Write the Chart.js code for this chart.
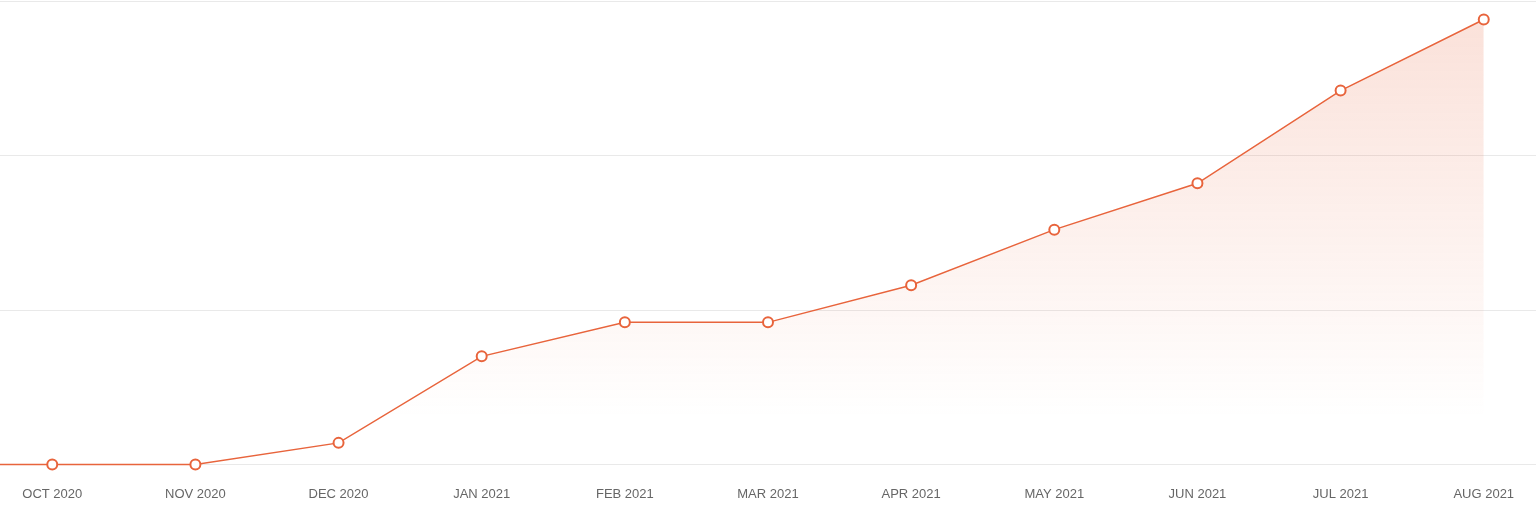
<!DOCTYPE html>
<html>
<head>
<meta charset="utf-8">
<script src="https://cdn.jsdelivr.net/npm/chart.js@4/dist/chart.umd.min.js"></script>
<style>
  html, body { margin: 0; padding: 0; background: #fff; }
  #wrap { width: 1536px; height: 518px; }
</style>
</head>
<body>
<div id="wrap"><canvas id="myChart"></canvas></div>
<script>
// first month only feeds the line coming in from the left edge
var months = ['SEP 2020', 'OCT 2020', 'NOV 2020', 'DEC 2020', 'JAN 2021', 'FEB 2021',
  'MAR 2021', 'APR 2021', 'MAY 2021', 'JUN 2021', 'JUL 2021', 'AUG 2021'];
var values = [0, 0, 0, 14, 70, 92, 92, 116, 152, 182, 242, 288];
var yTicks = [0, 100, 200, 300];

var orange = '#e8643c';

var points = values.map(function (v, i) { return { x: i, y: v }; });

function fillGradient(context) {
  var area = context.chart.chartArea;
  if (!area) return 'rgba(232,100,60,0.15)';
  var g = context.chart.ctx.createLinearGradient(0, area.top, 0, area.bottom);
  g.addColorStop(0, 'rgba(232,100,60,0.2)');
  g.addColorStop(0.5, 'rgba(232,100,60,0.09)');
  g.addColorStop(0.9, 'rgba(232,100,60,0)');
  g.addColorStop(1, 'rgba(232,100,60,0)');
  return g;
}

var ctx = document.getElementById('myChart').getContext('2d');
var myChart = new Chart(ctx, {
  type: 'line',
  data: {
    datasets: [{
      data: points,
      borderColor: orange,
      borderWidth: 1.5,
      backgroundColor: fillGradient,
      fill: 'start',
      tension: 0,
      clip: { left: 0, top: 10, right: 10, bottom: 10 },
      pointRadius: 5,
      pointBorderWidth: 2,
      pointBackgroundColor: '#fff',
      pointBorderColor: orange
    }]
  },
  options: {
    responsive: true,
    maintainAspectRatio: false,
    animation: false,
    layout: { autoPadding: false, padding: { top: 1, bottom: 0, left: 0, right: 0 } },
    plugins: { legend: { display: false }, tooltip: { enabled: false } },
    scales: {
      x: {
        type: 'linear',
        min: 1 - 0.365,
        max: months.length - 1 + 0.365,
        grid: { display: false },
        border: { display: false },
        afterBuildTicks: function (scale) {
          scale.ticks = months.slice(1).map(function (m, i) { return { value: i + 1 }; });
        },
        afterFit: function (scale) { scale.height = 53.5; },
        ticks: {
          padding: 14.5,
          maxRotation: 0,
          autoSkip: false,
          color: '#666',
          font: { family: '"Liberation Sans", Arial, sans-serif', size: 13 },
          callback: function (v) { return months[v]; }
        }
      },
      y: {
        min: yTicks[0],
        max: yTicks[yTicks.length - 1],
        afterBuildTicks: function (scale) {
          scale.ticks = yTicks.map(function (v) { return { value: v }; });
        },
        afterFit: function (scale) { scale.width = 0; },
        ticks: { display: false },
        border: { display: false },
        grid: { color: '#e9e9e9', lineWidth: 1, drawTicks: false }
      }
    }
  }
});
</script>
</body>
</html>
